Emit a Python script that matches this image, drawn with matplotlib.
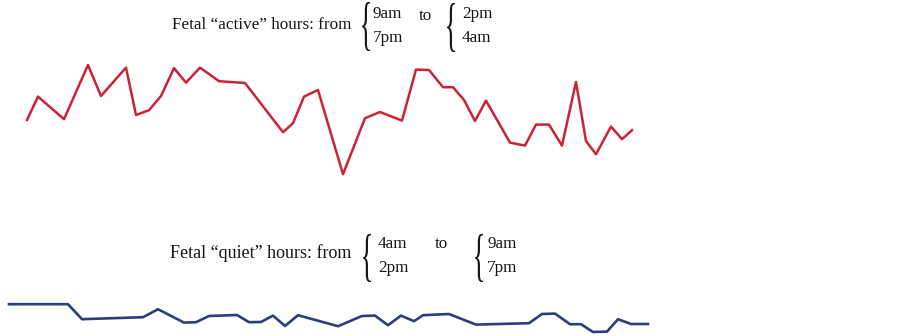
import matplotlib
matplotlib.use("Agg")
import matplotlib.pyplot as plt
from matplotlib.textpath import TextPath
from matplotlib.patches import PathPatch
from matplotlib.font_manager import FontProperties
from matplotlib.transforms import Affine2D

active_t = [2.7, 3.8, 6.4, 8.8, 10.1, 12.6, 13.6, 14.9, 16.1, 17.4,
            18.6, 20.0, 21.9, 24.5, 28.3, 29.3, 30.4, 31.8, 34.3, 36.5,
            38.0, 40.2, 41.6, 42.9, 44.3, 45.3, 46.4, 47.5, 48.6, 51.0,
            52.5, 53.6, 54.9, 56.2, 57.6, 58.6, 59.6, 61.1, 62.2, 63.2]
active_v = [30.0, 41.7, 30.4, 57.5, 42.0, 56.2, 32.5, 34.9, 42.0, 55.9,
            48.7, 56.2, 49.4, 48.5, 23.9, 28.4, 41.7, 45.0, 2.9, 30.9,
            34.0, 29.7, 55.2, 55.0, 46.4, 46.4, 40.0, 29.5, 39.7, 18.7,
            17.2, 27.7, 27.7, 17.2, 49.0, 19.5, 12.9, 26.7, 20.4, 24.9]

quiet_t = [0.9, 6.8, 8.2, 14.3, 15.8, 18.4, 19.6, 20.9, 23.7, 24.9,
           26.1, 27.3, 28.5, 29.8, 33.8, 36.2, 37.5, 38.8, 40.1, 41.4,
           42.3, 44.9, 47.6, 52.9, 54.2, 55.5, 57.0, 58.1, 59.3, 60.7,
           61.8, 63.1, 64.8]
quiet_v = [17.9, 17.9, 10.4, 11.4, 15.4, 8.7, 8.9, 12.0, 12.5, 8.9,
           9.0, 12.2, 7.0, 12.4, 6.9, 12.0, 12.2, 7.4, 12.2, 9.4,
           12.4, 13.0, 7.7, 8.4, 13.0, 13.2, 7.9, 7.9, 4.0, 4.2,
           10.4, 8.0, 8.0]

active_label = "Fetal \u201cactive\u201d hours: from"
quiet_label = "Fetal \u201cquiet\u201d hours: from"
active_from = ["9am", "7pm"]
active_to = ["2pm", "4am"]
quiet_from = ["4am", "2pm"]
quiet_to = ["9am", "7pm"]

W, H = 903, 336
fig = plt.figure(figsize=(W / 100, H / 100), dpi=100)
fig.patch.set_facecolor("white")

ax1 = fig.add_axes([0, 0, 1, 1])
ax1.plot(active_t, active_v, color="#cc2236", lw=1.8)
ax1.set_xlim(0, 90.3)
ax1.set_ylim(-78, 90)
ax1.axis("off")

ax2 = fig.add_axes([0, 0, 1, 1])
ax2.patch.set_alpha(0)
ax2.plot(quiet_t, quiet_v, color="#2a3d7c", lw=1.9)
ax2.set_xlim(0, 90.3)
ax2.set_ylim(2, 170)
ax2.axis("off")

ink = "#151515"


def put(x, y, s, size=12.3):
    # x, y in pixels from top-left, y is the baseline
    fig.text(x / W, 1 - y / H, s, family="Liberation Serif", size=size,
             color=ink, ha="left", va="baseline")


def brace(x, ytop, ybot, w=8):
    tp = TextPath((0, 0), "{", size=1,
                  prop=FontProperties(family="Liberation Serif"))
    ext = tp.get_extents()
    tr = (Affine2D().translate(-ext.x0, -ext.y0)
          .scale(w / ext.width, (ybot - ytop) / ext.height)
          .translate(x, H - ybot)
          .scale(1 / W, 1 / H) + fig.transFigure)
    fig.add_artist(PathPatch(tp, transform=tr, facecolor=ink, lw=0))


# active block
put(172, 29.3, active_label)
brace(362, 2, 51)
put(373, 18.5, active_from[0])
put(373, 42, active_from[1])
put(419, 20, "to")
brace(447, 3, 52)
put(462, 18.5, active_to[0])
put(462, 42, active_to[1])

# quiet block
put(170, 258.3, quiet_label, size=13)
brace(363, 234, 282)
put(378, 248, quiet_from[0])
put(378, 271.5, quiet_from[1])
put(435, 248.5, "to")
brace(475, 234, 282)
put(487, 248, quiet_to[0])
put(487, 271.5, quiet_to[1])

fig.savefig("out.png", dpi=100)
